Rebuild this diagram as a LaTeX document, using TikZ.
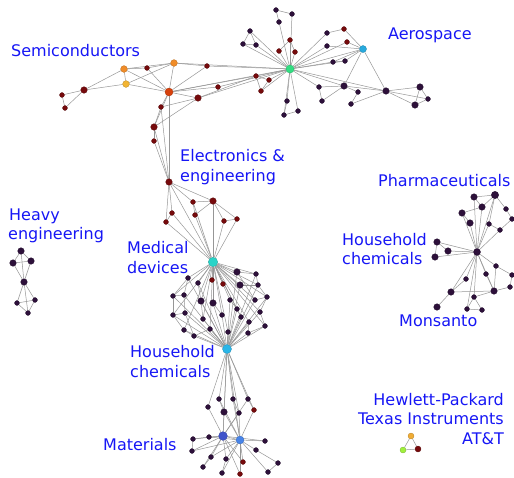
\documentclass[tikz,border=0pt]{standalone}
\usepackage{fontspec}
\setmainfont{DejaVu Sans}
\usetikzlibrary{backgrounds}
\definecolor{cdk}{RGB}{45,16,58}
\definecolor{crd}{RGB}{118,10,12}
\definecolor{clbl}{RGB}{22,22,245}
\definecolor{cedge}{RGB}{150,150,150}
\definecolor{corange}{RGB}{240,140,40}
\definecolor{cyell}{RGB}{242,180,50}
\definecolor{cored}{RGB}{215,65,12}
\definecolor{cgreen}{RGB}{50,222,130}
\definecolor{ccyan}{RGB}{40,170,222}
\definecolor{cturq}{RGB}{40,212,200}
\definecolor{chh}{RGB}{42,182,232}
\definecolor{cmat}{RGB}{62,82,202}
\definecolor{cmatb}{RGB}{72,132,232}
\definecolor{clime}{RGB}{160,240,60}
\definecolor{ctri}{RGB}{240,172,52}
\tikzset{
  vx/.style={circle,inner sep=0pt,line width=0.3pt},
  dk/.style={vx,fill=cdk,draw=cdk!70!black,minimum size=4.9pt},
  dkm/.style={dk,minimum size=6.6pt},
  rd/.style={vx,fill=crd,draw=crd!70!black,minimum size=4.9pt},
  rdm/.style={rd,minimum size=6.6pt},
  colv/.style 2 args={vx,fill=#1,draw=#1!75!black,minimum size=#2},
  edge/.style={draw=cedge,line width=0.5pt},
  lbl/.style={text=clbl,inner sep=0pt,font=\fontsize{16}{20}\selectfont,anchor=base west},
  lblr/.style={lbl,anchor=base east}
}
\begin{document}
\begin{tikzpicture}[x=1pt,y=-1pt]
\useasboundingbox (0,0) rectangle (514,477);
% ---------------- Semiconductors
\node[colv={corange}{6.8pt}] (s1) at (124,69) {};
\node[rd] (s2) at (147,68) {};
\node[colv={corange}{6.8pt}] (s3) at (174,63) {};
\node[rd] (s4) at (207,66) {};
\node[colv={cyell}{6.8pt}] (s5) at (126,84) {};
\node[colv={cored}{8pt}] (s6) at (169,92) {};
\node[rdm] (s7) at (84,90) {};
\node[rd] (s8) at (62,95) {};
\node[rd] (s9) at (65,108) {};
\node[rd] (s10) at (218,87) {};
\node[rdm] (s11) at (198,98) {};
\node[rd] (s12) at (161,107) {};
\node[rdm] (s13) at (154,127) {};
\node[rd] (s14) at (154,141) {};
% ---------------- Electronics
\node[rdm] (e1) at (169,182) {};
\node[rd] (e2) at (193,202) {};
\node[rdm] (e3) at (213,201) {};
\node[rd] (e4) at (172,213) {};
\node[rd] (e5) at (195,215) {};
\node[rd] (e6) at (166,222) {};
\node[rd] (e7) at (224,221) {};
\node[rd] (e8) at (237,219) {};
% ---------------- Aerospace
\node[colv={cgreen}{8.2pt}] (A) at (290,69) {};
\node[colv={ccyan}{7pt}] (C) at (363,49) {};
\node[dk] (a1) at (276,10) {};
\node[dk] (a2) at (292,14) {};
\node[dk] (a3) at (279,22) {};
\node[dk] (a4) at (250,31) {};
\node[dk] (a5) at (243,44) {};
\node[dk] (a6) at (256,45) {};
\node[rd] (a7) at (290,40) {};
\node[rd] (a8) at (279,51) {};
\node[rd] (a9) at (295,52) {};
\node[dk] (a10) at (327,33) {};
\node[rd] (a11) at (344,29) {};
\node[rd] (a12) at (347,42) {};
\node[dk] (a13) at (327,46) {};
\node[dk] (a14) at (333,62) {};
\node[dk] (a15) at (345,61) {};
\node[rd] (a16) at (256,76) {};
\node[rd] (a17) at (269,80) {};
\node[rd] (a18) at (261,91) {};
\node[dk] (a19) at (319,87) {};
\node[dkm] (a20) at (344,86) {};
\node[dk] (a21) at (358,92) {};
\node[dkm] (a22) at (386,91) {};
\node[dk] (a23) at (322,101) {};
\node[dk] (a24) at (351,104) {};
\node[dkm] (a25) at (420,87) {};
\node[dk] (a26) at (428,99) {};
\node[dkm] (a27) at (415,105) {};
\node[dk] (a28) at (287,101) {};
\node[dk] (a29) at (298,111) {};
\node[dk] (a30) at (284,115) {};
% ---------------- Medical devices / Household chemicals
\node[colv={cturq}{9.4pt}] (M) at (213,262) {};
\node[colv={chh}{9pt}] (H) at (227,349) {};
\node[dkm] (m1) at (237,272) {};
\node[dk] (m2) at (256,274) {};
\node[dk] (m3) at (188,278) {};
\node[dk] (m4) at (198,283) {};
\node[rd] (m5) at (212,280) {};
\node[rd] (m6) at (223,284) {};
\node[dkm] (m7) at (240,285) {};
\node[dk] (m8) at (258,285) {};
\node[dk] (m9) at (173,296) {};
\node[dk] (m10) at (184,295) {};
\node[dkm] (m11) at (201,301) {};
\node[dkm] (m12) at (213,303) {};
\node[dk] (m13) at (230,300) {};
\node[dk] (m14) at (237,309) {};
\node[dk] (m15) at (255,300) {};
\node[dk] (m16) at (267,297) {};
\node[dk] (m17) at (173,315) {};
\node[dk] (m18) at (185,313) {};
\node[dk] (m19) at (203,319) {};
\node[dk] (m20) at (222,315) {};
\node[dk] (m21) at (241,317) {};
\node[dk] (m22) at (260,312) {};
\node[dk] (m23) at (249,322) {};
\node[dk] (m24) at (265,326) {};
\node[dk] (m25) at (184,330) {};
\node[dk] (m26) at (194,336) {};
\node[dk] (m27) at (210,329) {};
\node[dk] (m28) at (228,332) {};
\node[dk] (m29) at (248,333) {};
% ---------------- Materials
\node[dk] (t1) at (219,399) {};
\node[dk] (t2) at (233,399) {};
\node[dk] (t3) at (248,399) {};
\node[dk] (t4) at (208,407) {};
\node[dkm] (t5) at (224,412) {};
\node[dk] (t6) at (239,413) {};
\node[rd] (t7) at (254,410) {};
\node[colv={cmat}{8.8pt}] (T1) at (223,436) {};
\node[colv={cmatb}{8pt}] (T2) at (240,440) {};
\node[dk] (t8) at (209,437) {};
\node[dk] (t9) at (193,439) {};
\node[dk] (t10) at (192,451) {};
\node[dk] (t11) at (265,441) {};
\node[dk] (t12) at (256,450) {};
\node[dk] (t13) at (211,457) {};
\node[dk] (t14) at (226,459) {};
\node[rd] (t15) at (243,462) {};
\node[dk] (t16) at (203,467) {};
\node[dk] (t17) at (222,473) {};
\node[rd] (t18) at (240,474) {};
\node[dk] (t19) at (278,463) {};
\node[dk] (t20) at (268,472) {};
% ---------------- Pharmaceuticals
\node[dkm,minimum size=7pt] (P) at (477,252) {};
\node[dkm] (p1) at (474,197) {};
\node[dkm,minimum size=7.4pt] (p2) at (495,195) {};
\node[dkm] (p3) at (482,207) {};
\node[dkm] (p4) at (462,213) {};
\node[dkm] (p5) at (470,223) {};
\node[dk] (p6) at (489,224) {};
\node[dk] (p7) at (506,209) {};
\node[dk] (p8) at (512,219) {};
\node[dk] (p9) at (500,230) {};
\node[dkm] (p10) at (437,242) {};
\node[dkm] (p11) at (448,251) {};
\node[dkm] (p12) at (435,257) {};
\node[dk] (p13) at (496,266) {};
\node[dk] (p14) at (486,274) {};
\node[dk] (p15) at (512,275) {};
\node[dk] (p16) at (466,279) {};
\node[dk] (p17) at (510,287) {};
\node[dkm] (p18) at (494,291) {};
\node[dkm] (p19) at (451,292) {};
\node[dk] (p20) at (474,297) {};
\node[dkm] (p21) at (437,307) {};
\node[dk] (p22) at (467,309) {};
\node[dk] (p23) at (482,310) {};
% ---------------- Heavy engineering
\node[dkm] (h1) at (21,251) {};
\node[dkm] (h2) at (13,263) {};
\node[dkm] (h3) at (31,261) {};
\node[dkm] (h4) at (24,282) {};
\node[dk] (h5) at (17,303) {};
\node[dk] (h6) at (35,300) {};
\node[dk] (h7) at (28,313) {};
% ---------------- HP / TI / AT&T
\node[colv={ctri}{6pt}] (q1) at (411,436) {};
\node[colv={clime}{6pt}] (q2) at (403,450) {};
\node[colv={crd}{6pt}] (q3) at (418,449) {};
% ---------------- edges
\begin{scope}[on background layer]
\foreach \u/\v in {s1/s2,s2/s3,s1/s3,s2/s6,s1/s5,s1/s6,s1/s7,s5/s7,s5/s3,s5/s6,s3/s6,s7/s8,s7/s9,s8/s9,
  s3/s4,s3/A,s4/A,s6/s4,s6/s10,s6/A,s11/A,s10/A,s11/a16,s6/a16,s6/s11,s6/s12,s11/s12,s11/s13,s12/s13,s6/s13,
  s6/e1,s13/s14,s13/e1,s14/e1,s12/e1,
  e1/e2,e1/e3,e1/e4,e1/e6,e1/M,e2/e3,e2/e5,e3/e5,e5/M,e3/e7,e3/M,e7/e8,e7/M,e8/M,e3/e8,e4/e6,e6/M,e4/M,e2/M,
  a1/a2,a1/a3,a3/A,a2/A,a4/a5,a4/a6,a5/a6,a4/A,a5/A,a6/A,a7/a8,a7/a9,a7/A,a8/A,a9/A,
  a10/A,a10/a11,a11/C,a12/C,a12/A,a13/A,a13/C,A/C,A/a14,A/a15,a14/a15,a15/C,a14/C,
  A/a19,A/a20,A/a22,a19/a20,a19/a23,a20/a23,a20/a22,a20/a21,a21/a24,a24/a22,C/a20,C/a22,
  a22/a25,a22/a26,a22/a27,a25/a26,a25/a27,a26/a27,A/a28,A/a29,A/a30,a28/a30,a29/a30,
  a16/a17,a16/a18,a17/a18,A/a16,A/a17,A/a18,
  M/m1,M/m2,M/m3,M/m4,M/m5,M/m6,M/m7,M/m8,M/m9,M/m11,M/m12,M/m13,M/m14,M/m15,M/m16,M/m19,M/m20,M/m21,M/m22,M/m23,M/m25,M/m27,M/m28,M/m17,M/m24,
  H/m1,H/m2,H/m3,H/m4,H/m7,H/m9,H/m10,H/m11,H/m12,H/m13,H/m14,H/m16,H/m17,H/m18,H/m19,H/m20,H/m21,H/m22,H/m23,H/m24,H/m25,H/m26,H/m27,H/m28,H/m29,H/m8,H/m15,
  m3/m9,m3/m10,m9/m10,m9/m17,m17/m18,m17/m25,m25/m26,m10/m18,m2/m8,m8/m16,m16/m22,m22/m24,m24/m29,m1/m15,m15/m16,m1/m2,m4/m11,m11/m19,m12/m20,m13/m14,m14/m21,m7/m8,m18/m26,m26/m27,m23/m29,
  H/t1,H/t2,H/t3,H/t4,H/t5,H/t6,H/t7,H/T1,H/T2,
  t1/t5,t4/T1,t5/T1,t5/T2,t6/T1,t6/T2,t7/T2,t3/t7,t2/t6,t3/T1,t2/T2,t1/T2,
  T1/T2,T1/t8,t8/t9,t9/T1,t9/t10,t10/T2,t10/T1,T1/t11,T2/t11,T2/t12,t12/t19,t19/t20,T2/t20,
  T1/t13,T2/t13,T1/t14,T2/t14,t13/t16,T1/t16,T2/t15,T1/t15,t14/t17,T2/t17,T2/t18,T1/t18,t8/T2,
  P/p1,P/p2,P/p3,P/p5,P/p6,P/p9,P/p10,P/p11,P/p12,P/p13,P/p14,P/p16,P/p18,P/p19,P/p20,P/p22,P/p4,
  p1/p2,p1/p3,p2/p3,p3/p4,p4/p5,p2/p7,p7/p8,p8/p9,p9/p6,p6/p2,p10/p11,p10/p12,
  p13/p15,p15/p17,p17/p18,p18/p14,p13/p18,p16/p19,p19/p21,p19/p18,p20/p22,p20/p23,p22/p23,p20/p18,
  h1/h2,h1/h3,h2/h3,h2/h4,h3/h4,h1/h4,h4/h5,h4/h6,h4/h7,h5/h6,h5/h7,h6/h7,
  q1/q2,q1/q3,q2/q3}
  \draw[edge] (\u) -- (\v);
\end{scope}
% ---------------- labels
\node[lbl] (l1) at (11,56) {Semiconductors};
\node[lbl] (l2) at (388,39) {Aerospace};
\node[lbl] (l3) at (180,161) {Electronics \&};
\node[lbl] (l4) at (180,181) {engineering};
\node[lbl] (l5) at (127,253) {Medical};
\node[lbl] (l6) at (127,273) {devices};
\node[lbl] (l7) at (130,357) {Household};
\node[lbl] (l8) at (130,377) {chemicals};
\node[lbl] (l9) at (103,450) {Materials};
\node[lbl] (l10) at (9,220) {Heavy};
\node[lbl] (l11) at (8,239) {engineering};
\node[lbl] (l12) at (378,186) {Pharmaceuticals};
\node[lbl] (l13) at (342,245) {Household};
\node[lbl] (l14) at (342,264) {chemicals};
\node[lbl] (l15) at (399,326) {Monsanto};
\node[lblr] (l16) at (504,405) {Hewlett-Packard};
\node[lblr] (l17) at (504,424) {Texas Instruments};
\node[lblr] (l18) at (504,444) {AT\&T};
\end{tikzpicture}
\end{document}
